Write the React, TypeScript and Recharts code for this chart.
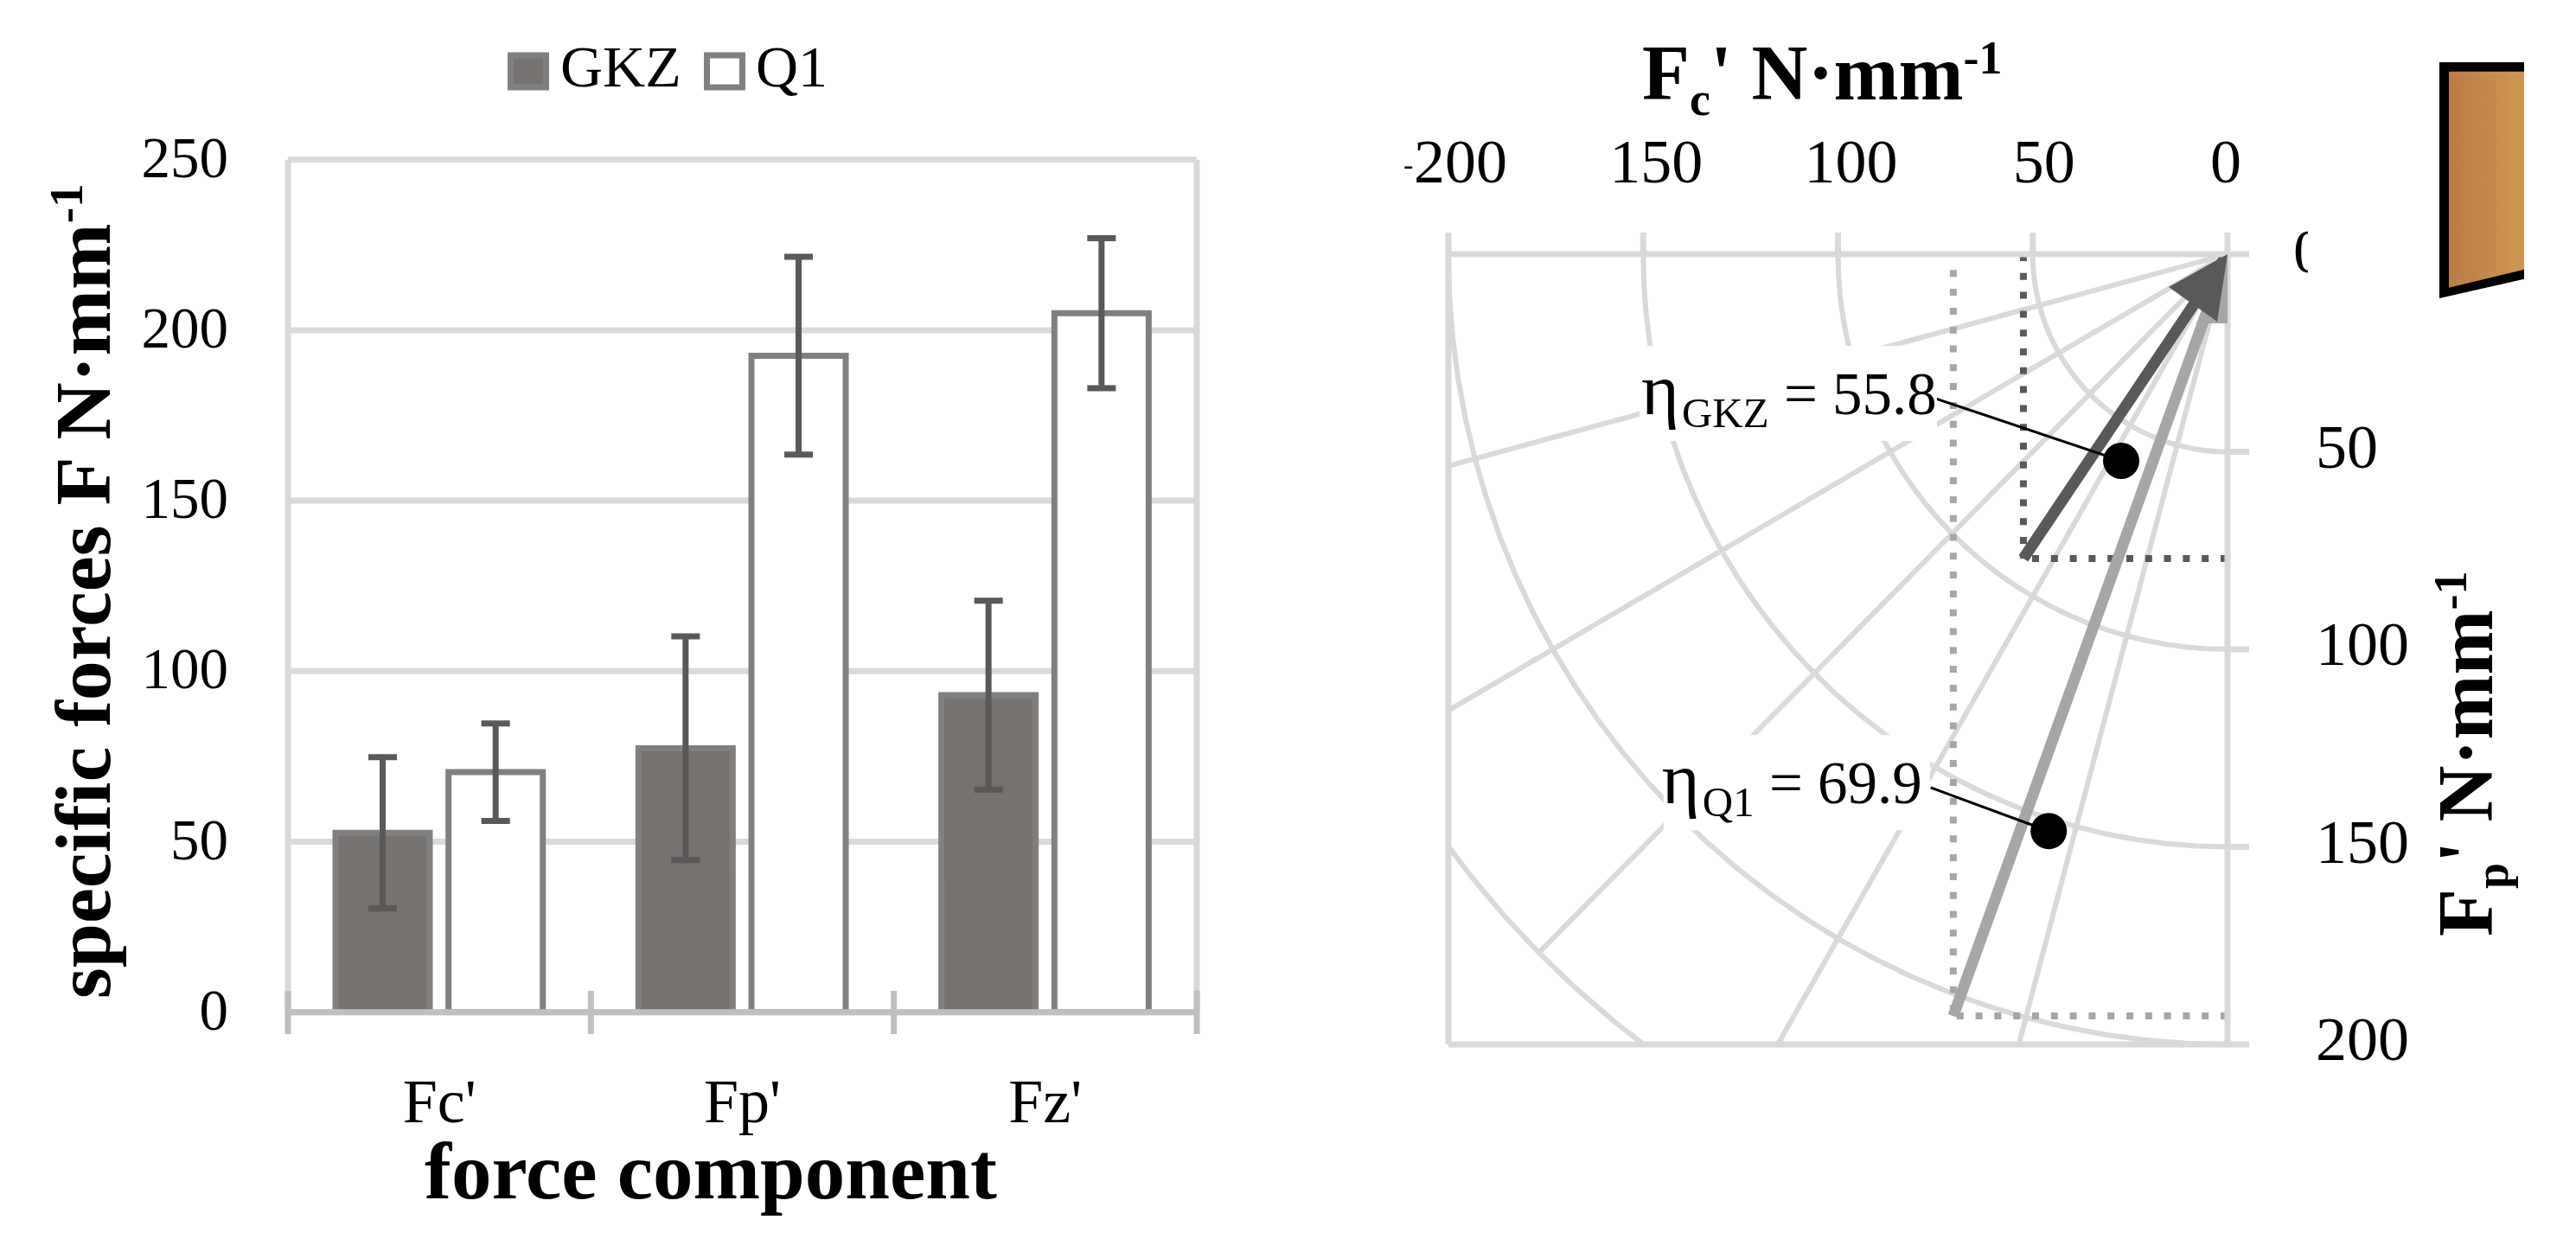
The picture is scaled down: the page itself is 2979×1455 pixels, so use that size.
import React from 'react';
import {
  BarChart, Bar, ErrorBar, XAxis, YAxis, CartesianGrid, Legend, Label,
  ComposedChart, Line, Scatter, ReferenceLine,
} from 'recharts';

// ---------- data: left panel ----------
const categories = ["Fc'", "Fp'", "Fz'"];
const gkzValues = [52.6, 77.4, 93];
const q1Values = [70.4, 192.5, 205];
const gkzErrors = [22.2, 32.8, 27.7];
const q1Errors = [14.3, 29, 22];
const forceTicks = [0, 50, 100, 150, 200, 250];

// ---------- data: right panel ----------
const fcTicks = [-200, -150, -100, -50, 0];
const fpTicks = [0, 50, 100, 150, 200];
const gridRadii = [50, 100, 150, 200, 250];
const gridAngles = [15, 30, 45, 60, 75];
const arcAngles = [0, 3, 6, 9, 12, 15, 18, 21, 24, 27, 30, 33, 36, 39, 42, 45, 48, 51, 54, 57, 60, 63, 66, 69, 72, 75, 78, 81, 84, 87, 90];
const gkzVector = { x: -52.4, y: 77 };
const q1Vector = { x: -70.4, y: 192.8 };
const gkzDot = { x: -27.3, y: 52.3 };
const q1Dot = { x: -45.9, y: 146 };
const gkzLeaderStart = { x: -75, y: 36.5 };
const q1LeaderStart = { x: -76.2, y: 135 };
const etaLabels = [
  { x: -150.5, y: 40.5, sub: 'GKZ', value: '55.8' },
  { x: -145.2, y: 139, sub: 'Q1', value: '69.9' },
];

// ---------- styles ----------
const FONT = "'Liberation Serif', serif";
const GRID = '#d9d9d9';
const AXIS = '#bfbfbf';
const DARK = '#595959';
const LIGHT = '#a6a6a6';
const BAR_FILL = '#767270';
const BAR_STROKE = '#808080';
const W = 2979;
const H = 1455;
const LEFT = { l: 333, r: 1384, t: 184.7, b: 1170.7 };
const RIGHT = { l: 1675, r: 2576, t: 294, b: 1208 };
const maskWidths: Record<string, [number, number]> = { GKZ: [-2, 344], Q1: [2, 308] };
const fcTickOffsets: Record<number, number> = { [-200]: 14, [-150]: 15, [-100]: 15, [-50]: 13, 0: -2 };

const barRows = categories.map((name, i) => ({
  name, gkz: gkzValues[i], q1: q1Values[i], gkzErr: gkzErrors[i], q1Err: q1Errors[i],
}));

const rad = (d: number) => (d * Math.PI) / 180;
const arcs = gridRadii.map((r) => arcAngles.map((a) => ({ x: -r * Math.cos(rad(a)), y: r * Math.sin(rad(a)) })));
const rays = gridAngles.map((a) => [
  { x: 0, y: 0 },
  { x: -250 * Math.cos(rad(a)), y: 250 * Math.sin(rad(a)) },
]);
const path = (...pts: { x: number; y: number }[]) => pts;

// ---------- left panel parts ----------
const LeftYTick = (p: any) => (
  <text x={264} y={p.y + 20} textAnchor="end" fontFamily={FONT} fontSize={67} fill="#000">{p.payload.value}</text>
);

const CategoryTick = (p: any) => {
  const band = (LEFT.r - LEFT.l) / categories.length;
  const edge = (x: number) => <line x1={x} x2={x} y1={1146} y2={1196} stroke={AXIS} strokeWidth={7} />;
  return (
    <g>
      {edge(p.x - band / 2)}
      {p.index === categories.length - 1 && edge(p.x + band / 2)}
      <text x={p.x} y={1298} textAnchor="middle" fontFamily={FONT} fontSize={72} fill="#000">{p.payload.value}</text>
    </g>
  );
};

const LegendContent = () => (
  <svg width={W} height={200} style={{ position: 'absolute', left: 0, top: 0, overflow: 'visible' }}>
    <rect x={590.5} y={64} width={41} height={37} fill={BAR_FILL} stroke={BAR_STROKE} strokeWidth={7} />
    <text x={648} y={100} fontFamily={FONT} fontSize={68} fill="#000">GKZ</text>
    <rect x={817.5} y={64} width={41} height={37} fill="#fff" stroke={BAR_STROKE} strokeWidth={7} />
    <text x={874} y={100} fontFamily={FONT} fontSize={68} fill="#000">Q1</text>
  </svg>
);

const LeftYTitle = () => (
  <text transform="rotate(-90 127 1155)" x={127} y={1155} fontFamily={FONT} fontWeight="bold" fontSize={92} fill="#000">
    specific forces F N·mm<tspan fontSize={55} dy={-32}>-1</tspan>
  </text>
);

const LeftXTitle = () => (
  <text x={822} y={1386} textAnchor="middle" fontFamily={FONT} fontWeight="bold" fontSize={93} fill="#000">force component</text>
);

// ---------- right panel parts ----------
const FcTick = (p: any) => {
  const v = p.payload.value;
  const cx = p.x + (fcTickOffsets[v] ?? 0);
  return (
    <g fontFamily={FONT} fill="#000">
      {v === -200 && <text x={1623} y={202} fontSize={34}>-</text>}
      <text x={cx} y={211} textAnchor="middle" fontSize={72}>{Math.abs(v)}</text>
    </g>
  );
};

const FpTick = (p: any) => {
  const v = p.payload.value;
  return (
    <text x={v === 0 ? 2652 : 2678} y={p.y + (v === 0 ? 21 : 18)} fontFamily={FONT} fontSize={72} fill="#000"
      clipPath={v === 0 ? 'url(#fpZeroClip)' : undefined}>{v}</text>
  );
};

const FcTitle = () => (
  <text x={1899} y={115} fontFamily={FONT} fontWeight="bold" fontSize={90} fill="#000">
    F<tspan fontSize={54} dy={18}>c</tspan><tspan dy={-18}>' N·mm</tspan><tspan fontSize={54} dy={-30}>-1</tspan>
  </text>
);

const FpTitle = () => (
  <text transform="rotate(-90 2882 1083)" x={2882} y={1083} fontFamily={FONT} fontWeight="bold" fontSize={90} fill="#000">
    F<tspan fontSize={54} dy={18}>p</tspan><tspan dy={-18}>' N·mm</tspan><tspan fontSize={54} dy={-30}>-1</tspan>
  </text>
);

const DotShape = (p: any) => <circle cx={p.cx} cy={p.cy} r={21} fill="#000" />;

const HeadDark = (p: any) => (
  <polygon points={`${p.cx},${p.cy} ${p.cx - 68},${p.cy + 38} ${p.cx - 12},${p.cy + 78}`} fill={DARK} />
);
const HeadLight = (p: any) => (
  <polygon points={`${p.cx},${p.cy} ${p.cx - 36},${p.cy + 80} ${p.cx + 4},${p.cy + 80}`} fill={LIGHT} />
);

const EtaLabel = (p: any) => {
  const { sub, value } = p.payload;
  const [dx, w] = maskWidths[sub];
  return (
    <g fontFamily={FONT} fill="#000">
      <rect x={p.cx + dx} y={p.cy - 79} width={w} height={110} fill="#fff" />
      <text x={p.cx} y={p.cy} fontSize={69}>
        <tspan fontSize={84}>η</tspan><tspan fontSize={49} dx={3} dy={15}>{sub}</tspan>
        <tspan dy={-15}> = {value}</tspan>
      </text>
    </g>
  );
};

const gridLine = (data: any[], key: string) => (
  <Line key={key} data={data} dataKey="y" type="linear" stroke={GRID} strokeWidth={6} dot={false} legendType="none" isAnimationActive={false} />
);

const dottedLine = (data: any[], color: string) => (
  <Line data={data} dataKey="y" stroke={color} strokeWidth={8} strokeDasharray="8 13.8" dot={false} legendType="none" isAnimationActive={false} />
);

export default function App() {
  return (
    <div style={{ position: 'absolute', left: 0, top: 0, width: W, height: H, background: '#fff' }}>
      <div style={{ position: 'absolute', left: 0, top: 0 }}>
        <BarChart
          width={W} height={H} data={barRows} barSize={109} barGap={21.7} barCategoryGap={0}
          margin={{ left: LEFT.l - 100, right: W - LEFT.r, top: LEFT.t, bottom: H - LEFT.b - 100 }}
        >
          <CartesianGrid
            stroke={GRID} strokeWidth={7}
            verticalCoordinatesGenerator={() => [LEFT.l, LEFT.r]}
          />
          <XAxis dataKey="name" height={100} tick={CategoryTick} tickLine={false} interval={0}
            axisLine={{ stroke: AXIS, strokeWidth: 7 }}>
            <Label content={LeftXTitle} />
          </XAxis>
          <YAxis width={100} domain={[0, 250]} ticks={forceTicks} tick={LeftYTick} tickLine={false} axisLine={false} allowDataOverflow>
            <Label content={LeftYTitle} />
          </YAxis>
          <Legend content={LegendContent} verticalAlign="top" height={0} wrapperStyle={{ position: 'absolute', left: 0, top: 0, width: 0, height: 0 }} />
          <Bar dataKey="gkz" name="GKZ" fill={BAR_FILL} stroke={BAR_STROKE} strokeWidth={7} isAnimationActive={false}>
            <ErrorBar dataKey="gkzErr" stroke={DARK} strokeWidth={7} width={16.5} />
          </Bar>
          <Bar dataKey="q1" name="Q1" fill="#fff" stroke={BAR_STROKE} strokeWidth={7} isAnimationActive={false}>
            <ErrorBar dataKey="q1Err" stroke={DARK} strokeWidth={7} width={16.5} />
          </Bar>
        </BarChart>
      </div>

      <div style={{ position: 'absolute', left: 0, top: 0 }}>
        <ComposedChart
          width={W} height={H}
          margin={{ left: RIGHT.l, right: W - RIGHT.r - 100, top: RIGHT.t - 100, bottom: H - RIGHT.b }}
        >
          <defs>
            <clipPath id="fpZeroClip"><rect x={2600} y={200} width={69} height={200} /></clipPath>
          </defs>
          <XAxis type="number" dataKey="x" orientation="top" height={100} domain={[-200, 0]} ticks={fcTicks}
            allowDataOverflow tick={FcTick} tickSize={25} tickLine={{ stroke: GRID, strokeWidth: 7 }}
            axisLine={{ stroke: GRID, strokeWidth: 7 }}>
            <Label content={FcTitle} />
          </XAxis>
          <YAxis type="number" dataKey="y" orientation="right" width={100} reversed domain={[0, 200]} ticks={fpTicks}
            allowDataOverflow tick={FpTick} tickSize={25} tickLine={{ stroke: GRID, strokeWidth: 7 }}
            axisLine={{ stroke: GRID, strokeWidth: 7 }}>
            <Label content={FpTitle} />
          </YAxis>
          <ReferenceLine x={-200} stroke={GRID} strokeWidth={7} />
          <ReferenceLine y={200} stroke={GRID} strokeWidth={7} />

          {arcs.map((d, i) => gridLine(d, `arc${i}`))}
          {rays.map((d, i) => gridLine(d, `ray${i}`))}

          {dottedLine(path({ x: q1Vector.x, y: 4 }, q1Vector), LIGHT)}
          {dottedLine(path({ x: 0, y: q1Vector.y }, q1Vector), LIGHT)}
          {dottedLine(path({ x: gkzVector.x, y: 0 }, gkzVector), DARK)}
          {dottedLine(path({ x: 0, y: gkzVector.y }, gkzVector), DARK)}

          <Line data={path(q1Vector, { x: 0, y: 0 })} dataKey="y" stroke={LIGHT} strokeWidth={13} dot={false} legendType="none" isAnimationActive={false} />
          <Line data={path(gkzVector, { x: 0, y: 0 })} dataKey="y" stroke={DARK} strokeWidth={13} dot={false} legendType="none" isAnimationActive={false} />

          <Line data={path(gkzLeaderStart, gkzDot)} dataKey="y" stroke="#000" strokeWidth={3} dot={false} legendType="none" isAnimationActive={false} />
          <Line data={path(q1LeaderStart, q1Dot)} dataKey="y" stroke="#000" strokeWidth={3} dot={false} legendType="none" isAnimationActive={false} />

          <Scatter data={etaLabels} shape={EtaLabel} legendType="none" isAnimationActive={false} />
          <Scatter data={[{ x: 0, y: 0 }]} shape={HeadLight} legendType="none" isAnimationActive={false} />
          <Scatter data={[{ x: 0, y: 0 }]} shape={HeadDark} legendType="none" isAnimationActive={false} />
          <Scatter data={[gkzDot, q1Dot]} shape={DotShape} legendType="none" isAnimationActive={false} />
        </ComposedChart>
      </div>

      <svg width={W} height={H} style={{ position: 'absolute', left: 0, top: 0, pointerEvents: 'none' }}>
        <defs>
          <linearGradient id="toolFill" x1="0" x2="1" y1="0" y2="0">
            <stop offset="0" stopColor="#ba7c46" />
            <stop offset="1" stopColor="#cf9650" />
          </linearGradient>
        </defs>
        <polygon points="2821,72 2919,72 2919,322.7 2821,345" fill="#000" />
        <polygon points="2832,82.7 2919,82.7 2919,311.7 2832,332.7" fill="url(#toolFill)" />
      </svg>
    </div>
  );
}
